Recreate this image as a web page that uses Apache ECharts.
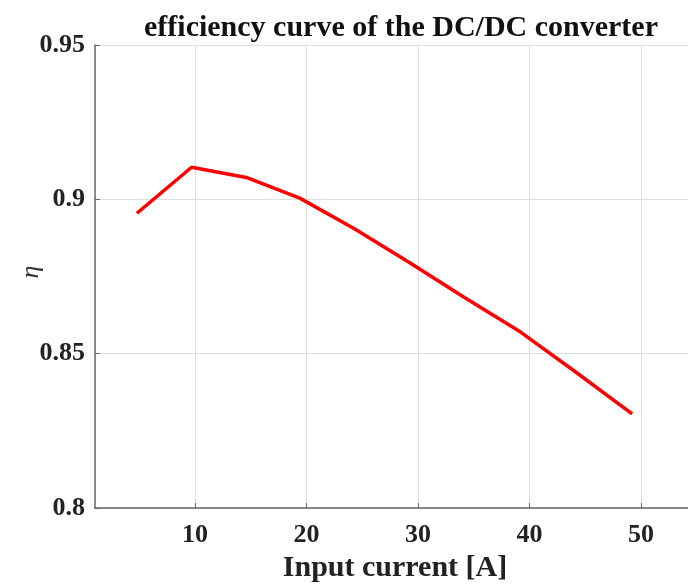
<!DOCTYPE html>
<html><head><meta charset="utf-8">
<script src="https://cdn.jsdelivr.net/npm/echarts@6/dist/echarts.min.js"></script>
<style>html,body{margin:0;padding:0;background:#fff}#c{width:688px;height:586px}</style>
</head><body><div id="c"></div>
<script>
const currentA = [4.8, 9.7, 14.6, 19.4, 24.3, 29.3, 34.2, 39.2, 44.2, 49.2];
const efficiency = [0.8955, 0.9104, 0.9071, 0.9004, 0.8905, 0.8794, 0.8681, 0.8570, 0.8439, 0.8305];
const xTicks = [10, 20, 30, 40, 50];
const yTicks = [0.8, 0.85, 0.9, 0.95];
const yName = 'η';

const chart = echarts.init(document.getElementById('c'));
const font = '"Liberation Serif", "Times New Roman", serif';
chart.setOption({
  animation: false,
  title: { text: 'efficiency curve of the DC/DC converter', left: 396, textAlign: 'center', top: 8,
    textStyle: { fontFamily: font, fontWeight: 'bold', fontSize: 30, color: '#111' } },
  grid: { left: 95, top: 45, width: 594, bottom: 78, outerBoundsMode: 'none', containLabel: false },
  graphic: [{
    type: 'text', x: 31, y: 272, rotation: Math.PI / 2,
    style: { text: yName, font: 'italic 26px ' + font, fill: '#333', align: 'center', verticalAlign: 'middle' }
  }],
  xAxis: {
    type: 'value', min: 1.04, max: 54.3,
    name: 'Input current [A]', nameLocation: 'middle', nameGap: 45,
    nameTextStyle: { fontFamily: font, fontWeight: 'bold', fontSize: 30, color: '#222', padding: [0, 0, 0, 6] },
    axisLine: { show: true, lineStyle: { color: '#666', width: 1.5 } },
    axisTick: { show: true, inside: true, length: 5, customValues: xTicks, lineStyle: { color: '#666' } },
    axisLabel: { customValues: xTicks, margin: 14, fontFamily: font, fontWeight: 'bold', fontSize: 26, color: '#222' },
    splitLine: { show: true, lineStyle: { color: '#dedede', width: 1 } }
  },
  yAxis: {
    type: 'value', min: 0.8, max: 0.95, interval: 0.05,
    axisLine: { show: true, lineStyle: { color: '#666', width: 1.5 } },
    axisTick: { show: true, inside: true, length: 5, lineStyle: { color: '#666' } },
    axisLabel: { margin: 10, fontFamily: font, fontWeight: 'bold', fontSize: 26, color: '#222',
      formatter: v => String(+v.toFixed(2)) },
    splitLine: { show: true, lineStyle: { color: '#dedede', width: 1 } }
  },
  series: [{
    type: 'line', data: currentA.map((x, i) => [x, efficiency[i]]),
    showSymbol: false, lineStyle: { color: '#ff0000', width: 3.5 }
  }]
});
</script></body></html>
